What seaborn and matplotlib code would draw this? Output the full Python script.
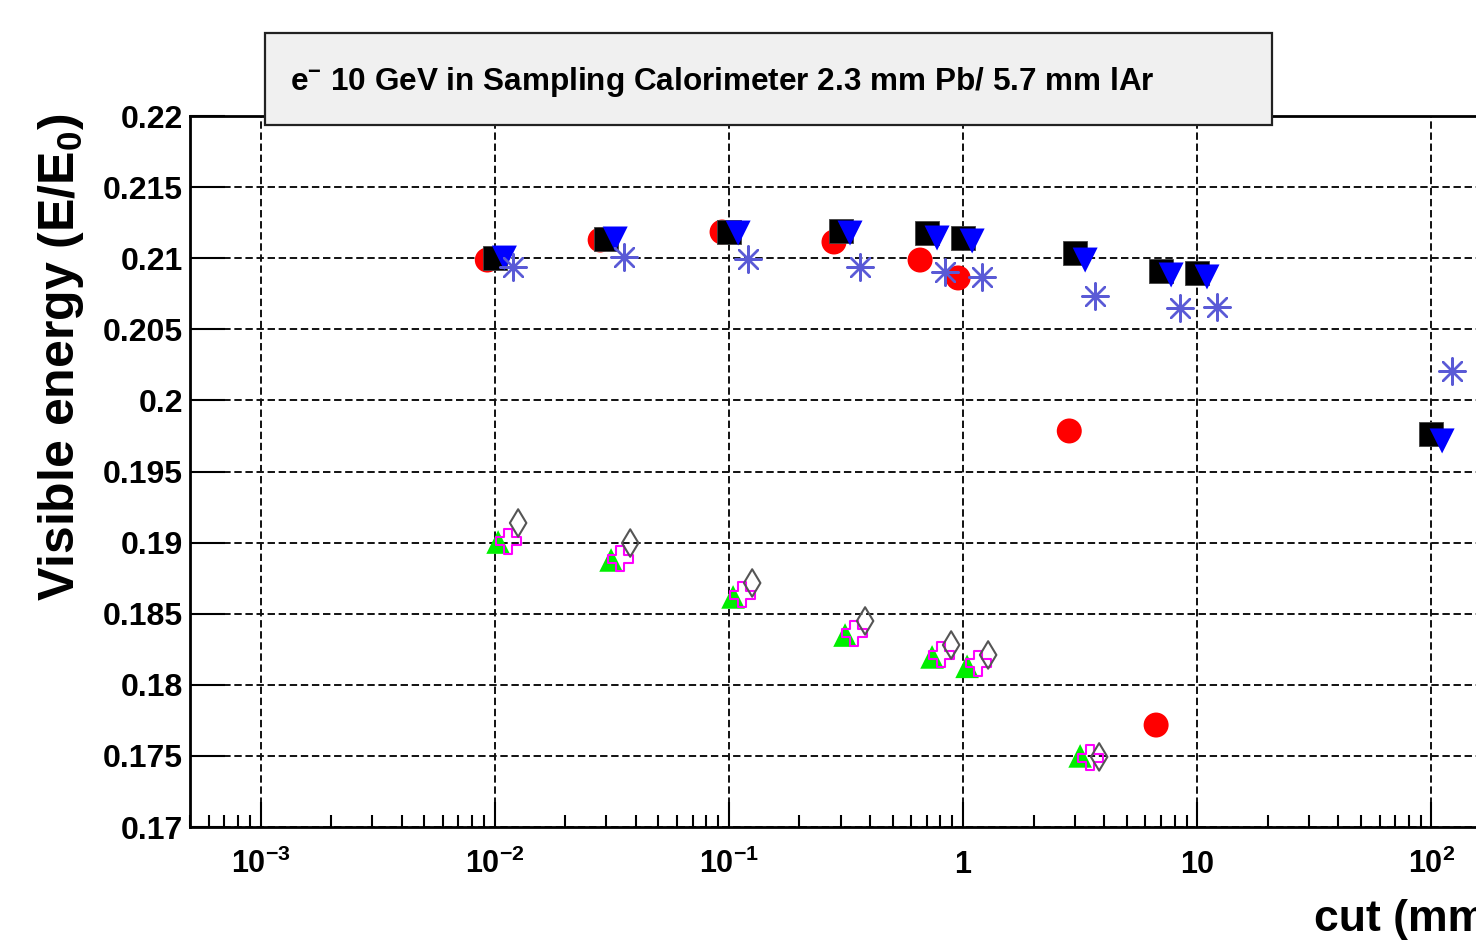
import numpy as np
import matplotlib
matplotlib.use("Agg")
import matplotlib.pyplot as plt
import matplotlib.ticker as mticker
from matplotlib.patches import Rectangle
import seaborn as sns

# visible energy fraction vs production cut (mm), one list pair per marker set
circle_x = [0.0093, 0.0282, 0.0935, 0.281, 0.655, 0.952, 2.84, 6.67]
circle_y = [0.20987, 0.21128, 0.21184, 0.21114, 0.20987, 0.20861, 0.19785, 0.17717]

square_x = [0.01, 0.03, 0.1, 0.3, 0.7, 1.0, 3.0, 7.0, 10.0, 100.0]
square_y = [0.21001, 0.21132, 0.21184, 0.21191, 0.21177, 0.21142, 0.21037, 0.20910, 0.20896, 0.19764]

tri_down_x = [0.011, 0.0327, 0.1095, 0.329, 0.774, 1.093, 3.32, 7.73, 11.0, 111.0]
tri_down_y = [0.21001, 0.21135, 0.21177, 0.21177, 0.21142, 0.21121, 0.20987, 0.20882, 0.20868, 0.19715]

star_x = [0.012, 0.0357, 0.1208, 0.363, 0.838, 1.205, 3.66, 8.45, 12.15, 122.0]
star_y = [0.20938, 0.21008, 0.20994, 0.20938, 0.20903, 0.20868, 0.20734, 0.20650, 0.20657, 0.20207]

tri_up_x = [0.01034, 0.0314, 0.1042, 0.3133, 0.737, 1.04, 3.16]
tri_up_y = [0.19004, 0.18878, 0.18618, 0.18350, 0.18196, 0.18130, 0.17500]

cross_x = [0.01141, 0.0343, 0.1139, 0.3424, 0.806, 1.159, 3.49]
cross_y = [0.19011, 0.18885, 0.18632, 0.18364, 0.18210, 0.18153, 0.17486]

diamond_x = [0.01259, 0.0379, 0.1257, 0.3815, 0.889, 1.279, 3.81]
diamond_y = [0.19138, 0.18997, 0.18716, 0.18449, 0.18280, 0.18210, 0.17493]

decades = [1e-3, 1e-2, 1e-1, 1, 10, 100]
decade_labels = [r"$\mathbf{10^{-3}}$", r"$\mathbf{10^{-2}}$", r"$\mathbf{10^{-1}}$",
                 r"$\mathbf{1}$", r"$\mathbf{10}$", r"$\mathbf{10^{2}}$"]

title = r"e$^{\mathbf{-}}$ 10 GeV in Sampling Calorimeter 2.3 mm Pb/ 5.7 mm lAr"

sns.set_theme(style="white")
plt.rcParams["font.family"] = ["Liberation Sans", "DejaVu Sans"]
plt.rcParams["font.weight"] = "bold"
plt.rcParams["text.color"] = "black"
plt.rcParams["xtick.color"] = "black"
plt.rcParams["ytick.color"] = "black"
plt.rcParams["mathtext.fontset"] = "custom"
plt.rcParams["mathtext.rm"] = "Liberation Sans:bold"
plt.rcParams["mathtext.bf"] = "Liberation Sans:bold"
plt.rcParams["mathtext.it"] = "Liberation Sans:bold"

W, H = 1476, 946
fig = plt.figure(figsize=(W / 100, H / 100), dpi=100)
# frame runs past the right edge of the picture, as in the reference crop
ax = fig.add_axes([190 / W, 119 / H, 1312 / W, 711 / H])

sns.scatterplot(x=circle_x, y=circle_y, marker="o", s=18**2, color="#ff0000",
                edgecolor="none", linewidth=0, legend=False, ax=ax)
sns.scatterplot(x=square_x, y=square_y, marker="s", s=17**2, color="#000000",
                edgecolor="#444444", linewidth=0.6, legend=False, ax=ax)
sns.scatterplot(x=tri_down_x, y=tri_down_y, marker="v", s=18**2, color="#0000ff",
                edgecolor="none", linewidth=0, legend=False, ax=ax)
sns.scatterplot(x=star_x, y=star_y, marker=(8, 2, 0), s=19**2, color="#5a5ad6",
                edgecolor=None, linewidth=1.7, legend=False, ax=ax)
sns.scatterplot(x=tri_up_x, y=tri_up_y, marker="^", s=17**2, color="#00ee00",
                edgecolor="none", linewidth=0, legend=False, ax=ax)
sns.scatterplot(x=cross_x, y=cross_y, marker="P", s=18**2, color="#ff00ff",
                facecolor="none", edgecolor="#ff00ff", linewidth=1.5, legend=False, ax=ax)
sns.scatterplot(x=diamond_x, y=diamond_y, marker="d", s=14**2, color="#555555",
                facecolor="none", edgecolor="#555555", linewidth=1.5, legend=False, ax=ax)

ax.set_xscale("log")
ax.set_xlim(5e-4, 200)
ax.set_ylim(0.17, 0.22)
ax.xaxis.set_major_locator(mticker.FixedLocator(decades))
ax.xaxis.set_minor_locator(mticker.LogLocator(base=10, subs=np.arange(2, 10), numticks=30))
ax.xaxis.set_major_formatter(mticker.NullFormatter())
ax.xaxis.set_minor_formatter(mticker.NullFormatter())
ax.yaxis.set_major_locator(mticker.MultipleLocator(0.005))
ax.yaxis.set_major_formatter(mticker.FuncFormatter(lambda v, p: f"{v:g}"))

ax.tick_params(axis="x", which="major", direction="in", length=18, width=1.5,
               bottom=True, top=False, color="black")
ax.tick_params(axis="x", which="minor", direction="in", length=9, width=1.5,
               bottom=True, top=False, color="black")
ax.tick_params(axis="y", which="major", direction="in", length=25, width=1.5,
               left=True, right=False, labelsize=23, pad=5, color="black")
for lab in ax.get_yticklabels():
    lab.set_fontweight("bold")

ax.grid(True, which="major", color="#111111", linestyle=(0, (3.8, 1.9)), linewidth=1.4)
ax.set_axisbelow(True)
for sp in ax.spines.values():
    sp.set_linewidth(2)
    sp.set_color("black")

for v, lab in zip(decades, decade_labels):
    ax.text(v, -0.0647, lab, transform=ax.get_xaxis_transform(), ha="center",
            va="baseline", fontsize=22, fontweight="bold")

ax.text(1.0, -0.1463, "cut (mm)", transform=ax.transAxes, ha="right",
        va="baseline", fontsize=32, fontweight="bold")
fig.text(36 / W, 1 - 113 / H, r"Visible energy (E/E$_{\mathbf{0}}$)", rotation=90,
         ha="left", va="top", fontsize=36, fontweight="bold")

# title pave
fig.add_artist(Rectangle((265 / W, 1 - 125 / H), (1272 - 265) / W, 92 / H,
                         transform=fig.transFigure, facecolor="#f0f0f0",
                         edgecolor="#222222", linewidth=1.6, zorder=5))
fig.text(290 / W, 1 - 90 / H, title, ha="left", va="baseline", fontsize=22.7,
         fontweight="bold", zorder=6)

fig.savefig("out.png", dpi=100)
